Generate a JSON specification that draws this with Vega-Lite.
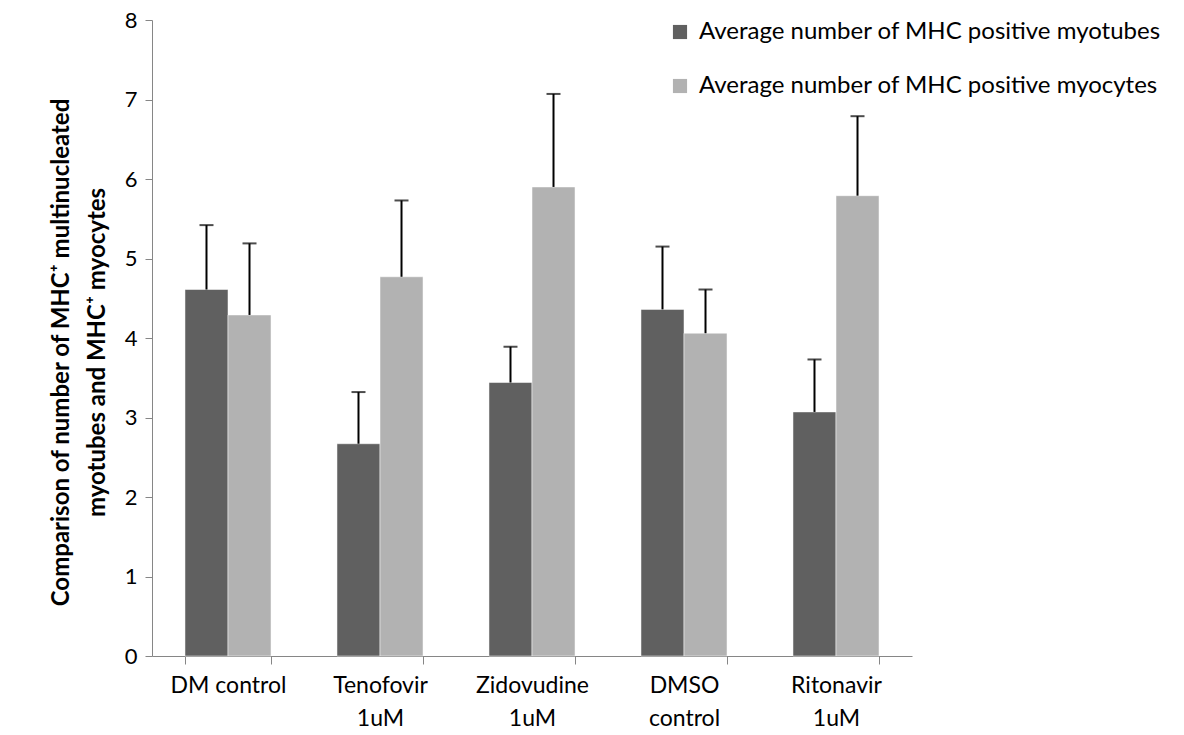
{
  "$schema": "https://vega.github.io/schema/vega-lite/v6.json",
  "width": 760,
  "height": 636,
  "autosize": {"type": "none"},
  "padding": {"left": 152, "top": 20, "right": 272, "bottom": 79},
  "background": "white",
  "config": {
    "view": {"stroke": null},
    "font": "Lato",
    "axis": {"grid": false, "domainColor": "#868686", "tickColor": "#868686", "labelColor": "#000000", "labelFont": "Lato", "titleFont": "Lato"}
  },
  "data": {
    "values": [
      {"group": "DM control", "series": "Average number of MHC positive myotubes", "value": 4.61, "upper": 5.42},
      {"group": "DM control", "series": "Average number of MHC positive myocytes", "value": 4.29, "upper": 5.19},
      {"group": "Tenofovir|1uM", "series": "Average number of MHC positive myotubes", "value": 2.67, "upper": 3.32},
      {"group": "Tenofovir|1uM", "series": "Average number of MHC positive myocytes", "value": 4.77, "upper": 5.73},
      {"group": "Zidovudine|1uM", "series": "Average number of MHC positive myotubes", "value": 3.44, "upper": 3.89},
      {"group": "Zidovudine|1uM", "series": "Average number of MHC positive myocytes", "value": 5.90, "upper": 7.07},
      {"group": "DMSO|control", "series": "Average number of MHC positive myotubes", "value": 4.36, "upper": 5.15},
      {"group": "DMSO|control", "series": "Average number of MHC positive myocytes", "value": 4.06, "upper": 4.61},
      {"group": "Ritonavir|1uM", "series": "Average number of MHC positive myotubes", "value": 3.07, "upper": 3.73},
      {"group": "Ritonavir|1uM", "series": "Average number of MHC positive myocytes", "value": 5.79, "upper": 6.79}
    ]
  },
  "encoding": {
    "x": {
      "field": "group", "type": "nominal", "sort": null,
      "scale": {"paddingInner": 0.434, "paddingOuter": 0.217},
      "axis": {"title": null, "labelAngle": 0, "labelFontSize": 23, "labelPadding": 10, "labelLineHeight": 33, "tickSize": 8, "tickBand": "extent", "labelExpr": "datum.value ? split(datum.value, '|') : ''"}
    },
    "xOffset": {"field": "series", "type": "nominal", "sort": ["Average number of MHC positive myotubes", "Average number of MHC positive myocytes"]}
  },
  "layer": [
    {
      "mark": {"type": "bar", "stroke": "white", "strokeWidth": 0.5},
      "encoding": {
        "y": {"field": "value", "type": "quantitative", "scale": {"domain": [0, 8]},
          "axis": {"values": [0,1,2,3,4,5,6,7,8], "format": "d", "labelFontSize": 22, "labelPadding": 8, "tickSize": 7,
            "title": ["Comparison of number of MHC⁺ multinucleated", "myotubes and MHC⁺ myocytes"],
            "titleFontSize": 24, "titleFontWeight": "bold", "titlePadding": 15, "titleLineHeight": 36, "titleColor": "#000000", "titleY": 332}},
        "color": {"field": "series", "type": "nominal",
          "scale": {"domain": ["Average number of MHC positive myotubes", "Average number of MHC positive myocytes"], "range": ["#606060", "#b2b2b2"]},
          "legend": {"title": null, "orient": "none", "legendX": 516, "legendY": 0, "symbolType": "square", "symbolSize": 200, "symbolStrokeWidth": 0, "labelFontSize": 24, "labelColor": "#000000", "rowPadding": 30, "labelOffset": 7, "labelLimit": 600}}
      }
    },
    {
      "mark": {"type": "rule", "color": "black", "strokeWidth": 2},
      "encoding": {"y": {"field": "value", "type": "quantitative"}, "y2": {"field": "upper"}}
    },
    {
      "mark": {"type": "tick", "color": "black", "thickness": 2, "size": 14, "orient": "horizontal"},
      "encoding": {"y": {"field": "upper", "type": "quantitative"}}
    }
  ]
}
